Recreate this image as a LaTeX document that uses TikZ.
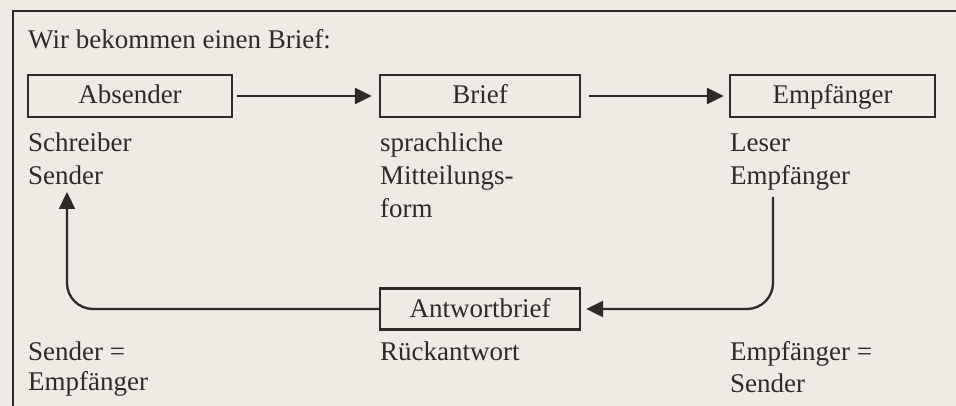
\documentclass[tikz,border=0pt]{standalone}
\usepackage{fontspec}
\setmainfont{Liberation Serif}
\usetikzlibrary{arrows.meta}
\definecolor{paper}{RGB}{238,234,228}
\definecolor{ink}{RGB}{45,42,40}
\begin{document}
\begin{tikzpicture}[x=1pt,y=-1pt,
  txt/.style={anchor=base west,inner sep=0pt,text=ink,font=\fontsize{27}{27}\selectfont},
  box/.style={draw=ink,line width=2.3pt,minimum height=42pt,inner sep=0pt,text height=20pt,text depth=4pt,text=ink,font=\fontsize{27}{27}\selectfont},
  conn/.style={draw=ink,line width=2.3pt,-{Triangle[length=17pt,width=16pt]}},
  frame/.style={draw=ink,line width=1.5pt}]
\useasboundingbox (0,0) rectangle (956,406);
\fill[paper] (-6,-6) rectangle (962,412);
\coordinate (ftop) at (962,11);
\coordinate (fcorner) at (13,11);
\coordinate (fbot) at (13,412);
\draw[frame] (ftop) -- (fcorner) -- (fbot);
\node[txt] (title) at (28,49) {Wir bekommen einen Brief:};
\node[box,minimum width=204pt] (abs) at (130,96) {Absender};
\node[box,minimum width=200pt] (brief) at (480,96) {Brief};
\node[box,minimum width=205pt] (emp) at (832.5,96) {Empfänger};
\node[box,minimum width=200pt,minimum height=41pt] (ant) at (480,309) {Antwortbrief};
\draw[conn,shorten <=4pt,shorten >=7pt] (abs.east) -- (brief.west);
\draw[conn,shorten <=8pt,shorten >=5pt] (brief.east) -- (emp.west);
\node[txt] (l1a) at (28,152) {Schreiber};
\node[txt] (l1b) at (28,185) {Sender};
\node[txt] (l2a) at (380,152) {sprachliche};
\node[txt] (l2b) at (380,185) {Mitteilungs-};
\node[txt] (l2c) at (380,218) {form};
\node[txt] (l3a) at (730,152) {Leser};
\node[txt] (l3b) at (730,185) {Empfänger};
\node[txt] (l4a) at (28,360) {Sender =};
\node[txt] (l4b) at (28,390) {Empfänger};
\node[txt] (l5a) at (380,360) {Rückantwort};
\node[txt] (l6a) at (730,360) {Empfänger =};
\node[txt] (l6b) at (730,392) {Sender};
\coordinate (rstart) at (773,197);
\coordinate (lend) at (67,192);
\draw[conn,rounded corners=26pt,shorten >=5pt] (rstart) |- (ant.east);
\draw[conn,rounded corners=26pt] (ant.west) -| (lend);
\end{tikzpicture}
\end{document}
